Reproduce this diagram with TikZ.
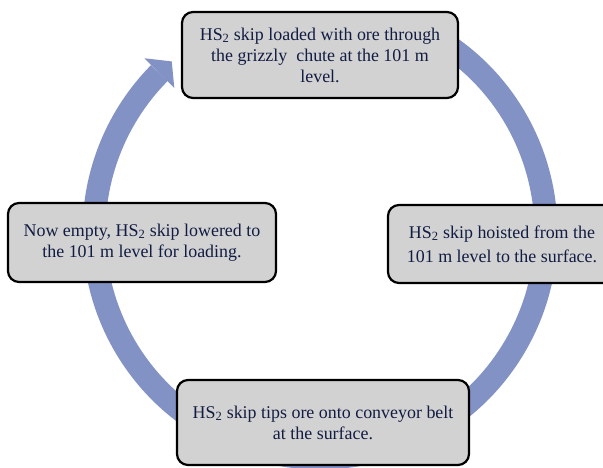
\documentclass[tikz,border=0pt]{standalone}
\usepackage{fontspec}
\setmainfont{Liberation Serif}
\definecolor{bandc}{RGB}{130,146,196}
\definecolor{boxgray}{RGB}{210,210,210}
\definecolor{txt}{RGB}{18,28,66}
\tikzset{
  stepbox/.style={draw=black, line width=2.2bp, rounded corners=11bp, fill=boxgray,
    align=center, font=\fontsize{18}{21}\selectfont, text=txt, inner sep=0pt},
  band/.style={draw=bandc, line width=23bp}
}
\begin{document}
\begin{tikzpicture}[x=1bp,y=1bp]
\useasboundingbox (0,0) rectangle (603,468);
\clip (0,0) rectangle (603,468);
\fill[white] (0,0) rectangle (603,468);
\coordinate (C) at (320,236);
\draw[band] ([shift={(60:226)}]C) arc[start angle=60, end angle=-224.7, radius=226];
\fill[bandc] ([shift={(135.3:247)}]C) -- ([shift={(131:226)}]C) -- ([shift={(135.3:205)}]C) -- cycle;
\node[stepbox, minimum width=276bp, minimum height=86bp] (top) at (320,413)
  {HS\textsubscript{2} skip loaded with ore through\\the grizzly\ \ chute at the 101 m\\level.};
\node[stepbox, minimum width=268bp, minimum height=79bp] (left) at (142,225.5)
  {Now empty, HS\textsubscript{2} skip lowered to\\the 101 m level for loading.};
\node[stepbox, minimum width=228bp, minimum height=78bp] (right) at (502,224)
  {HS\textsubscript{2} skip hoisted from the\\[3bp]101 m level to the surface.};
\node[stepbox, minimum width=292bp, minimum height=85bp] (bottom) at (323,45.5)
  {HS\textsubscript{2} skip tips ore onto conveyor belt\\at the surface.};
\end{tikzpicture}
\end{document}
